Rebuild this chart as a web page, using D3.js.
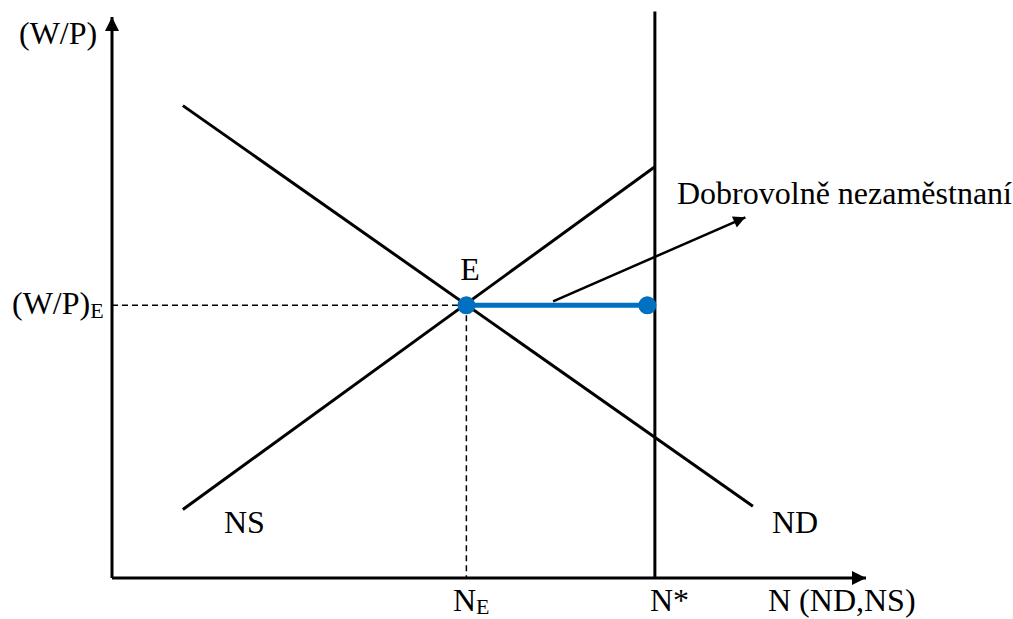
<!DOCTYPE html>
<html>
<head>
<meta charset="utf-8">
<script src="https://cdn.jsdelivr.net/npm/d3@7"></script>
<style>
body { margin: 0; background: #fff; }
text { font-family: "Liberation Serif", "Times New Roman", serif; fill: #000; }
</style>
</head>
<body>
<div id="chart"></div>
<script>
// curves in chart units (x: 0..100, y: 0..100)
const nsLine = [{x: 9.4, y: 12.2}, {x: 72, y: 73.3}];
const ndLine = [{x: 9.4, y: 84.2}, {x: 85, y: 12.8}];
const nStar = 72;
const nE = 47;
const wpE = 48.6;
const note = [{x: 58.5, y: 49.3}, {x: 84, y: 64.3}];

const width = 1013, height = 619;

const svg = d3.select('#chart')
                .append('svg')
                .attr('width', width)
                .attr('height', height);

let scaleX = d3.scaleLinear().domain([0, 100]).range([112, 866]);
let scaleY = d3.scaleLinear().domain([0, 100]).range([578, 17]);

let defs = svg.append('defs');
defs.append('marker')
    .attr('id', 'head')
    .attr('viewBox', '0 0 10 10')
    .attr('refX', 10).attr('refY', 5)
    .attr('markerWidth', 16).attr('markerHeight', 14)
    .attr('markerUnits', 'userSpaceOnUse')
    .attr('orient', 'auto')
    .append('path').attr('d', 'M0,0 L10,5 L0,10 Z').attr('fill', '#000');

defs.append('marker')
    .attr('id', 'small')
    .attr('viewBox', '0 0 10 10')
    .attr('refX', 10).attr('refY', 5)
    .attr('markerWidth', 15).attr('markerHeight', 12)
    .attr('markerUnits', 'userSpaceOnUse')
    .attr('orient', 'auto')
    .append('path').attr('d', 'M0,0 L10,5 L0,10 Z').attr('fill', '#000');

let line = d3.line().x(d => scaleX(d.x)).y(d => scaleY(d.y));

// axes
svg.append('path')
    .attr('d', line([{x: 0, y: 0}, {x: 0, y: 100}]))
    .attr('stroke', '#000').attr('stroke-width', 3).attr('fill', 'none')
    .attr('marker-end', 'url(#head)');
svg.append('path')
    .attr('d', line([{x: 0, y: 0}, {x: 100, y: 0}]))
    .attr('stroke', '#000').attr('stroke-width', 3).attr('fill', 'none')
    .attr('marker-end', 'url(#head)');

// dashed guides
svg.append('path')
    .attr('d', line([{x: 0, y: wpE}, {x: nE, y: wpE}]))
    .attr('stroke', '#000').attr('stroke-width', 1.5).attr('stroke-dasharray', '6,4');
svg.append('path')
    .attr('d', line([{x: nE, y: wpE}, {x: nE, y: 0}]))
    .attr('stroke', '#000').attr('stroke-width', 1.5).attr('stroke-dasharray', '6,4');

// N* vertical
svg.append('path')
    .attr('d', line([{x: nStar, y: 0}, {x: nStar, y: 101}]))
    .attr('stroke', '#000').attr('stroke-width', 3);

// NS and ND
[nsLine, ndLine].forEach(l => {
    svg.append('path')
        .attr('d', line(l))
        .attr('stroke', '#000').attr('stroke-width', 3).attr('fill', 'none');
});

// annotation arrow
svg.append('path')
    .attr('d', line(note))
    .attr('stroke', '#000').attr('stroke-width', 2.5).attr('fill', 'none')
    .attr('marker-end', 'url(#small)');

// blue segment
svg.append('path')
    .attr('d', line([{x: nE, y: wpE}, {x: nStar - 1, y: wpE}]))
    .attr('stroke', '#0070C0').attr('stroke-width', 5);
svg.selectAll('.dot')
    .data([{x: nE, y: wpE}, {x: nStar - 1, y: wpE}])
    .enter().append('circle')
    .attr('cx', d => scaleX(d.x))
    .attr('cy', d => scaleY(d.y))
    .attr('r', 9)
    .attr('fill', '#0070C0');

// labels
const fs = '32px', sub = '22px';
svg.append('text').attr('x', 19).attr('y', 44).style('font-size', fs).text('(W/P)');

let wpl = svg.append('text').attr('x', 12).attr('y', 314).style('font-size', fs);
wpl.append('tspan').text('(W/P)');
wpl.append('tspan').attr('dy', 4).style('font-size', sub).text('E');

svg.append('text').attr('x', 470).attr('y', 280)
    .style('font-size', fs).style('text-anchor', 'middle').text('E');

svg.append('text').attr('x', 224).attr('y', 533).style('font-size', fs).text('NS');
svg.append('text').attr('x', 772).attr('y', 533).style('font-size', fs).text('ND');

let nel = svg.append('text').attr('x', 453).attr('y', 611).style('font-size', fs);
nel.append('tspan').text('N');
nel.append('tspan').attr('dy', 3).style('font-size', sub).text('E');

svg.append('text').attr('x', 650).attr('y', 611).style('font-size', fs).text('N*');
svg.append('text').attr('x', 768).attr('y', 611).style('font-size', fs).text('N (ND,NS)');

svg.append('text').attr('x', 677).attr('y', 204).style('font-size', fs).text('Dobrovolně nezaměstnaní');
</script>
</body>
</html>
